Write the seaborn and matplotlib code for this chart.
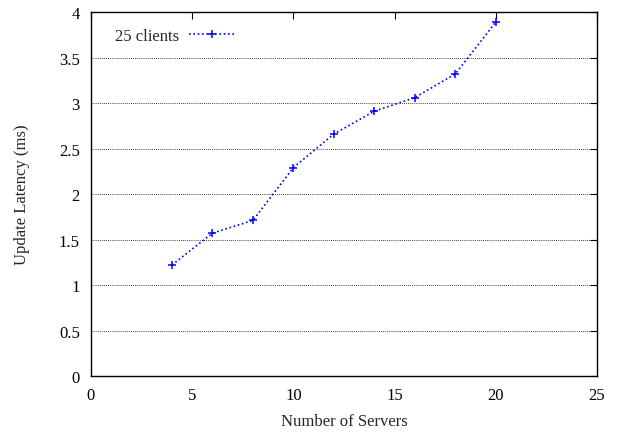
import matplotlib
matplotlib.use("Agg")
import matplotlib.pyplot as plt
import seaborn as sns
import pandas as pd

servers = [4, 6, 8, 10, 12, 14, 16, 18, 20]
latency = [1.22, 1.57, 1.71, 2.29, 2.66, 2.91, 3.06, 3.32, 3.89]
series_name = "25 clients"

sns.set_style("white")
plt.rcParams['font.family'] = ['Liberation Serif', 'DejaVu Serif']
plt.rcParams['font.size'] = 12

df = pd.DataFrame({"Number of Servers": servers, "Update Latency (ms)": latency, "series": series_name})

fig = plt.figure(figsize=(6.18, 4.35), dpi=100)
ax = fig.add_axes([0.1472, 0.1333, 0.966 - 0.1472, 0.970 - 0.1333])

sns.lineplot(data=df, x="Number of Servers", y="Update Latency (ms)", hue="series",
             palette=["#0000ff"], marker="+", markersize=5.5, markeredgewidth=1.1,
             markeredgecolor="#0000ff",
             linestyle=(0, (1, 1.6)), linewidth=1.2, ax=ax)

ax.set_xlim(0, 25)
ax.set_ylim(0, 4)
ax.set_xticks([0, 5, 10, 15, 20, 25])
ax.set_yticks([0, 0.5, 1, 1.5, 2, 2.5, 3, 3.5, 4])
ax.set_yticklabels(["0", "0.5", "1", "1.5", "2", "2.5", "3", "3.5", "4"])
ax.yaxis.grid(True, linestyle=(0, (1, 1.5)), color="black", linewidth=0.6)
ax.xaxis.grid(False)
ax.tick_params(direction="in", length=5, width=0.8, top=True, right=True, colors="black", labelsize=12, pad=8)
for s in ax.spines.values():
    s.set_color("black")
    s.set_linewidth(1.0)
ax.set_xlabel("Number of Servers", fontsize=12, va="center")
ax.set_ylabel("Update Latency (ms)", fontsize=12, va="center")
ax.xaxis.set_label_coords((344 - 91) / 506, (377 - 421.7) / 364)
ax.yaxis.set_label_coords((21.7 - 91) / 506, 0.5)

leg = ax.legend(loc="upper left", frameon=False, markerfirst=False, handlelength=2.75,
                fontsize=12, borderaxespad=0, borderpad=0, handletextpad=0.6,
                bbox_to_anchor=(24 / 506, (377 - 28.5) / 364))

fig.savefig("out.png", dpi=100)
